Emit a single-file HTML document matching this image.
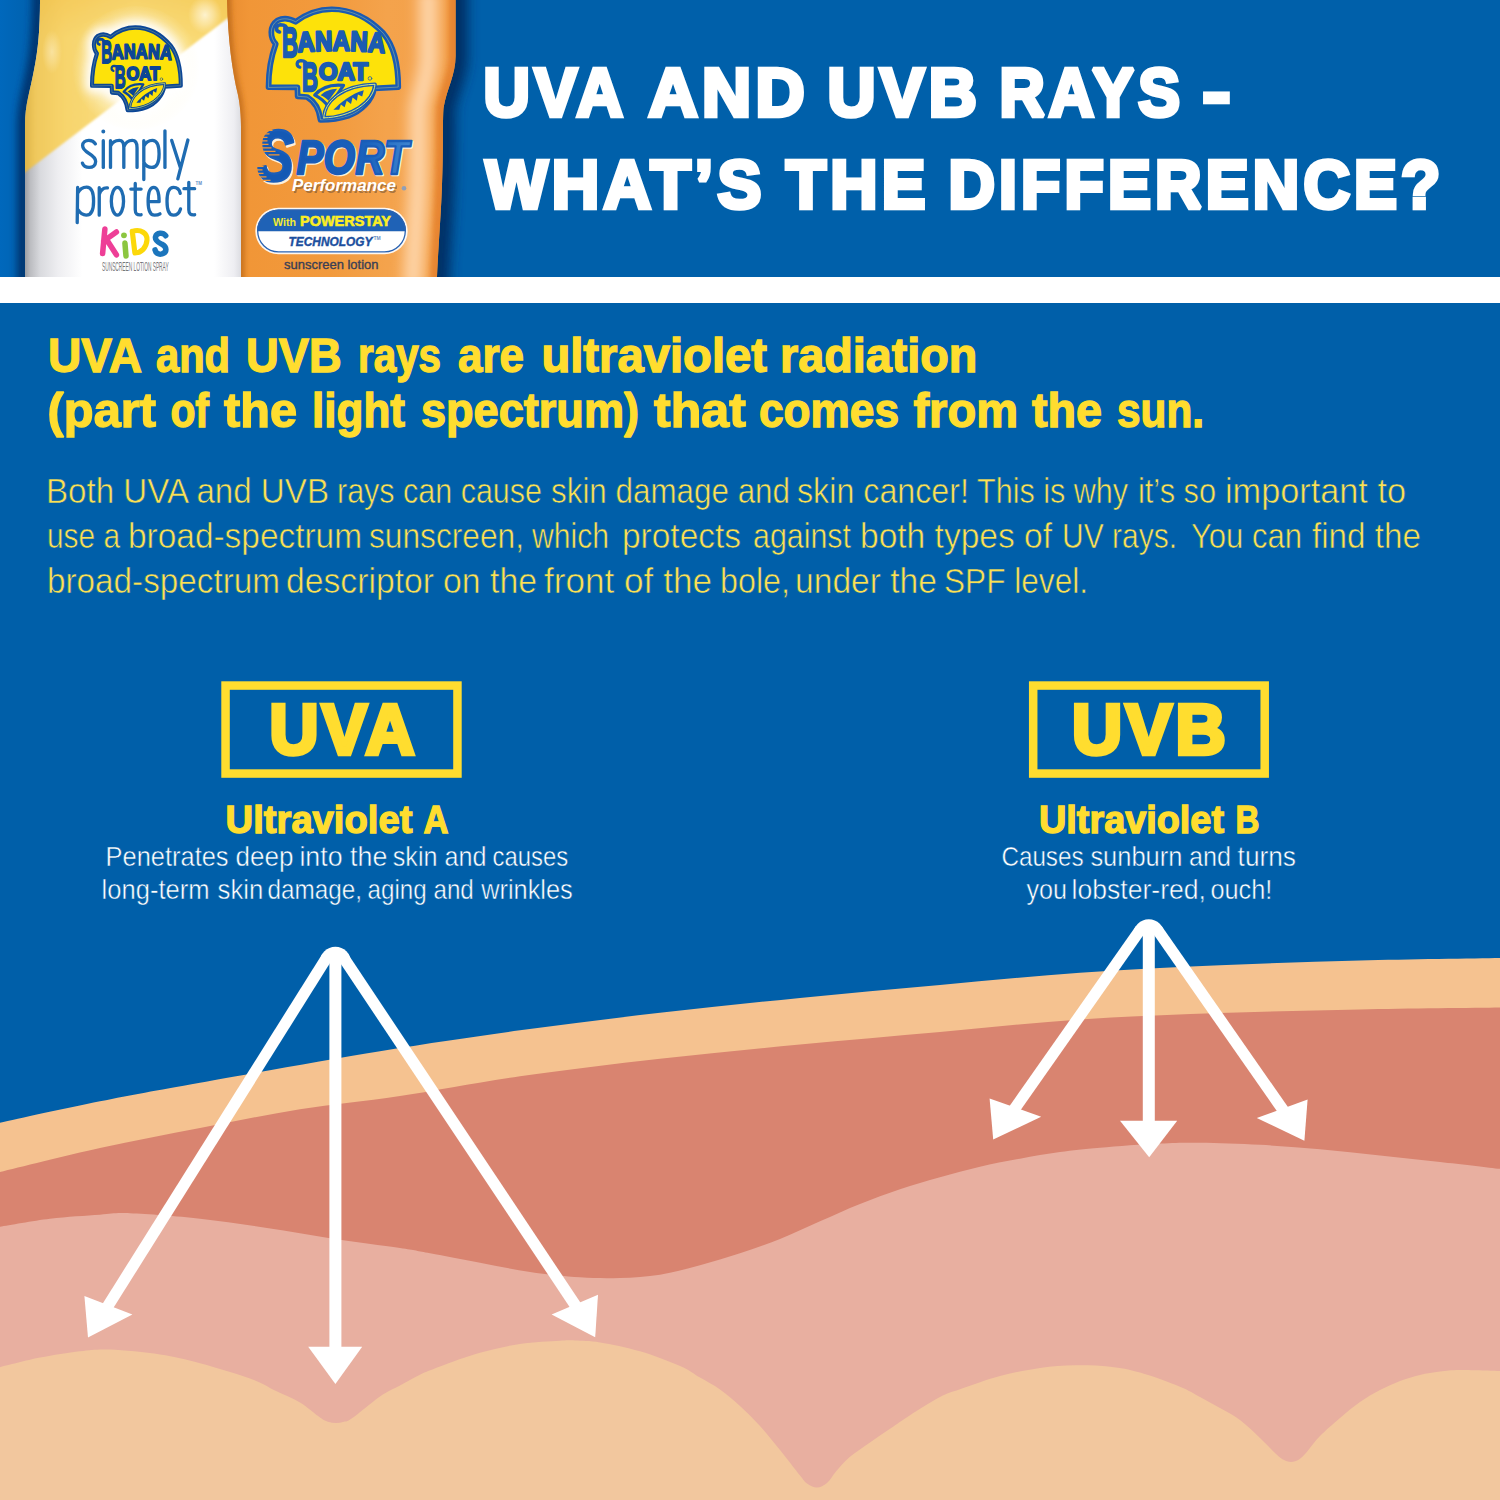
<!DOCTYPE html>
<html lang="en">
<head>
<meta charset="utf-8">
<title>UVA and UVB Rays - What's the Difference?</title>
<style>
  html, body { margin: 0; padding: 0; }
  body { width: 1500px; height: 1500px; overflow: hidden; background: #005fa9; font-family: "Liberation Sans", sans-serif; }
  svg { display: block; position: absolute; left: 0; top: 0; }
  text { font-family: "Liberation Sans", sans-serif; }
  .b { font-weight: bold; }
  .y { fill: #ffdd2f; }
  .w { fill: #ffffff; }
</style>
</head>
<body>
<svg id="page" width="1500" height="1500" viewBox="0 0 1500 1500">
  <defs>
    <linearGradient id="hdrL" x1="0" x2="1" y1="0" y2="0">
      <stop offset="0" stop-color="#0068bc"/>
      <stop offset="0.5" stop-color="#0063b2"/>
      <stop offset="1" stop-color="#005fa9"/>
    </linearGradient>
    <filter id="blurL" filterUnits="userSpaceOnUse" x="-20" y="-30" width="100" height="340"><feGaussianBlur stdDeviation="3.5 2"/></filter>
  </defs>

  <!-- ===== page background ===== -->
  <rect x="0" y="0" width="1500" height="1500" fill="#005fa9"/>

  <!-- ===== HEADER ===== -->
  <g id="header">
    <rect x="0" y="0" width="1500" height="277" fill="#0060aa"/>
    <rect x="0" y="0" width="46" height="277" fill="url(#hdrL)"/>
    <path d="M38.500,-5 C38.500,30 36.500,50 32.500,70 C28.500,92 23.500,104 23.500,125 L23.500,282" fill="none" stroke="#012f66" stroke-width="13" filter="url(#blurL)" opacity="0.85"/>
    <path d="M457,-5 L457,56 C457,75 448.500,88 445,108 C444,120 445,150 443.500,185 C442.500,215 439.500,250 438.500,282" fill="none" stroke="#012e63" stroke-width="22" filter="url(#blurS)" opacity="0.95"/>
    <g id="bottles">
      <defs>
        <linearGradient id="whiteBody" gradientUnits="userSpaceOnUse" x1="25" x2="245" y1="0" y2="0">
          <stop offset="0" stop-color="#9c9ea3"/>
          <stop offset="0.025" stop-color="#bcbdc1"/>
          <stop offset="0.07" stop-color="#d9dade"/>
          <stop offset="0.15" stop-color="#eeeef1"/>
          <stop offset="0.26" stop-color="#ffffff"/>
          <stop offset="0.86" stop-color="#ffffff"/>
          <stop offset="0.95" stop-color="#eeeef2"/>
          <stop offset="1" stop-color="#d2d3d9"/>
        </linearGradient>
        <linearGradient id="yellowBody" gradientUnits="userSpaceOnUse" x1="25" x2="245" y1="0" y2="0">
          <stop offset="0" stop-color="#dfb548"/>
          <stop offset="0.05" stop-color="#f0c95d"/>
          <stop offset="0.18" stop-color="#f7d46c"/>
          <stop offset="0.5" stop-color="#fadf82"/>
          <stop offset="0.8" stop-color="#f9d973"/>
          <stop offset="1" stop-color="#f5ce60"/>
        </linearGradient>
        <linearGradient id="yellowTop" x1="0" x2="0" y1="0" y2="1">
          <stop offset="0" stop-color="#f0b93a" stop-opacity="0.4"/>
          <stop offset="0.25" stop-color="#f0b93a" stop-opacity="0"/>
        </linearGradient>
        <radialGradient id="halo" gradientUnits="userSpaceOnUse" cx="136" cy="68" r="64">
          <stop offset="0" stop-color="#ffffff" stop-opacity="1"/>
          <stop offset="0.6" stop-color="#ffffff" stop-opacity="0.92"/>
          <stop offset="0.78" stop-color="#fffdf0" stop-opacity="0.55"/>
          <stop offset="1" stop-color="#fff8dc" stop-opacity="0"/>
        </radialGradient>
        <radialGradient id="blob">
          <stop offset="0" stop-color="#fff8e0" stop-opacity="0.85"/>
          <stop offset="0.5" stop-color="#fff3cf" stop-opacity="0.5"/>
          <stop offset="1" stop-color="#ffefbf" stop-opacity="0"/>
        </radialGradient>
        <linearGradient id="orangeBody" gradientUnits="userSpaceOnUse" x1="226" x2="456" y1="0" y2="0">
          <stop offset="0" stop-color="#d5802a"/>
          <stop offset="0.035" stop-color="#ec9033"/>
          <stop offset="0.10" stop-color="#f19637"/>
          <stop offset="0.45" stop-color="#f29a3d"/>
          <stop offset="0.70" stop-color="#f4a34c"/>
          <stop offset="1" stop-color="#f3a04a"/>
        </linearGradient>
        <clipPath id="orangeClip"><path d="M227,0 C228,40 232,70 238,95 C240,105 241,115 241,130 L241,277 L437,277 C438,250 441,215 442,185 C443.500,150 442.500,120 443.500,108 C447,88 455.600,75 455.600,56 L455.600,0 Z"/></clipPath>
        <filter id="blur6" filterUnits="userSpaceOnUse" x="340" y="-30" width="150" height="340"><feGaussianBlur stdDeviation="7 3"/></filter>
        <filter id="blurS" filterUnits="userSpaceOnUse" x="390" y="-30" width="140" height="340"><feGaussianBlur stdDeviation="6 2"/></filter>
        <filter id="blurOL" filterUnits="userSpaceOnUse" x="200" y="-30" width="90" height="340"><feGaussianBlur stdDeviation="2.5 1"/></filter>
        <filter id="blur2" filterUnits="userSpaceOnUse" x="400" y="-30" width="90" height="340"><feGaussianBlur stdDeviation="2.5 1"/></filter>
        <linearGradient id="sportFill" x1="0" x2="1" y1="0" y2="0">
          <stop offset="0" stop-color="#1459b4"/>
          <stop offset="0.6" stop-color="#1a62bd"/>
          <stop offset="1" stop-color="#3f85d0"/>
        </linearGradient>
        <clipPath id="leftClip"><path d="M40,0 C40,30 38,50 34,70 C30,92 25,104 25,125 L25,277 L245,277 L245,0 Z"/></clipPath>
        <clipPath id="pillClip"><rect x="257" y="209.500" width="149" height="43" rx="21.500"/></clipPath>
        <filter id="soft" filterUnits="userSpaceOnUse" x="0" y="-20" width="270" height="320"><feGaussianBlur stdDeviation="1.1"/></filter>
        <filter id="glow" x="-40%" y="-40%" width="180%" height="180%"><feGaussianBlur stdDeviation="62"/></filter>
        <filter id="soft2" x="-20%" y="-20%" width="140%" height="140%"><feGaussianBlur stdDeviation="0.6"/></filter>

        <!-- Banana Boat logo drawn in a 1500-wide working space -->
        <g id="bblogo" stroke-linejoin="round" stroke-linecap="round">
          <g transform="translate(735,607) scale(0.965,0.96) translate(-735,-607)">
            <path id="bbOutline" d="M105,825 C105,700 118,560 175,405 C120,345 110,230 190,175 C250,145 320,160 368,188 C470,110 590,65 720,65 C900,65 1080,150 1220,300 C1320,420 1365,600 1365,825 L1130,838 C1110,950 1010,1060 880,1105 C790,1135 690,1145 610,1145 C600,1060 560,970 480,922 L388,915 L385,828 Z" fill="#fde20a" stroke="currentColor" style="stroke-width:var(--ow,48px)"/>
            <path d="M105,825 C105,700 118,560 175,405 C120,345 110,230 190,175 C250,145 320,160 368,188 C470,110 590,65 720,65 C900,65 1080,150 1220,300 C1320,420 1365,600 1365,825 L1130,838 C1110,950 1010,1060 880,1105 C790,1135 690,1145 610,1145 C600,1060 560,970 480,922 L388,915 L385,828 Z" fill="none" stroke="#e6ec86" style="stroke-width:var(--kw,7px)" opacity="0.6"/>
          </g>
          <!-- small leaf -->
          <path d="M560,892 C620,820 720,788 830,800 C790,860 730,950 690,1000 C650,950 610,915 560,892 Z" fill="#fde20a" stroke="currentColor" stroke-width="30"/>
          <path d="M615,893 C660,850 710,835 770,832 L690,945 C665,920 645,905 615,893 Z" fill="currentColor"/>
          <!-- main leaf -->
          <path d="M645,1105 C650,960 800,800 1125,790 C1110,960 900,1100 645,1105 Z" fill="#fde20a" stroke="currentColor" stroke-width="34"/>
          <path d="M645,1105 C650,960 800,800 1125,790 C1110,960 900,1100 645,1105 Z" fill="none" stroke="#d9ee7e" stroke-width="9"/>
          <path d="M735,1030 C800,960 900,880 1020,845 L1005,905 L965,885 L955,945 L915,915 L900,975 L860,945 L840,1005 L805,980 L790,1030 Z" fill="currentColor"/>
          <!-- lettering -->
          <g fill="currentColor" stroke="currentColor" font-weight="bold">
            <path d="M230,300 C190,290 190,235 240,232 C280,232 300,250 300,285" fill="none" stroke-width="34"/>
            <text x="252" y="532" font-size="400" style="stroke-width:var(--lw,16px)" textLength="150" lengthAdjust="spacingAndGlyphs">B</text>
            <text font-size="262" style="stroke-width:var(--lw,16px)"><textPath href="#bbArc" textLength="815" lengthAdjust="spacingAndGlyphs">ANANA</textPath></text>
            <path d="M420,630 C385,620 385,572 430,568 C468,568 485,585 485,615" fill="none" stroke-width="30"/>
            <text x="440" y="852" font-size="385" style="stroke-width:var(--lw,16px)" textLength="150" lengthAdjust="spacingAndGlyphs">B</text>
            <text x="598" y="748" font-size="230" style="stroke-width:var(--lw,16px)" textLength="462" lengthAdjust="spacingAndGlyphs">OAT</text>
            <circle cx="1078" cy="735" r="17" fill="none" stroke-width="7"/>
          </g>
          <path id="bbArc" d="M402,488 Q810,458 1218,496" fill="none" stroke="none"/>
        </g>
      </defs>

      <!-- left bottle : Simply Protect Kids -->
      <g clip-path="url(#leftClip)">
        <rect x="20" y="0" width="230" height="277" fill="url(#whiteBody)"/>
        <g filter="url(#soft)">
          <path d="M10,-10 L255,-10 L255,-2.600 L10,183.900 Z" fill="url(#yellowBody)"/>
          <path d="M10,-10 L255,-10 L255,-2.600 L10,183.900 Z" fill="url(#yellowTop)"/>
        </g>
        <ellipse cx="136" cy="68" rx="64" ry="62" fill="url(#halo)" opacity="0.55"/>
        <ellipse cx="205" cy="15" rx="17" ry="19" fill="url(#blob)"/>
        <ellipse cx="52" cy="52" rx="10" ry="22" fill="url(#blob)" opacity="0.55"/>
      </g>
      <g transform="translate(82.730,20.630) scale(0.07302,0.07963)" filter="url(#glow)" opacity="0.95">
        <path transform="translate(735,607) scale(0.965,0.96) translate(-735,-607)" d="M105,825 C105,700 118,560 175,405 C120,345 110,230 190,175 C250,145 320,160 368,188 C470,110 590,65 720,65 C900,65 1080,150 1220,300 C1320,420 1365,600 1365,825 L1130,838 C1110,950 1010,1060 880,1105 C790,1135 690,1145 610,1145 C600,1060 560,970 480,922 L388,915 L385,828 Z" fill="#ffffff" stroke="#ffffff" stroke-width="190" stroke-linejoin="round"/>
      </g>
      <use href="#bblogo" transform="translate(82.730,20.630) scale(0.07302,0.07963)" style="color:#0b4696;--ow:58px;--kw:6px;--lw:22px"/>
      <g transform="translate(70,122) scale(0.09)" fill="none" stroke="#1f6cb2" stroke-width="37" stroke-linecap="round" stroke-linejoin="round">
        <!-- simply -->
        <path d="M282,242 C265,214 235,204 210,204 C170,204 140,226 140,262 C140,300 172,326 212,350 C255,376 285,400 285,440 C285,480 255,505 212,505 C175,505 150,490 138,457"/>
        <circle cx="370" cy="106" r="9" fill="#1f6cb2" stroke-width="26"/>
        <path d="M370,208 L370,505"/>
        <path d="M450,208 L450,505 M450,268 C470,220 515,204 548,204 C590,204 598,238 598,282 L598,505 M598,276 C618,224 660,204 692,204 C736,204 745,240 745,286 L745,505"/>
        <path d="M820,208 L820,640 M820,268 C845,220 885,204 915,204 C978,204 990,288 990,355 C990,440 970,505 910,505 C870,505 840,482 820,448"/>
        <path d="M1055,98 L1055,505"/>
        <path d="M1130,205 L1228,512 M1310,200 L1198,632"/>
        <!-- protect -->
        <path d="M85,728 L80,1118 M85,792 C110,742 150,724 185,724 C250,724 262,800 262,880 C262,960 240,1035 180,1035 C140,1035 110,1010 86,972"/>
        <path d="M325,730 L325,1035 M325,806 C340,756 375,728 416,732"/>
        <ellipse cx="527" cy="880" rx="68" ry="154"/>
        <path d="M725,682 L725,972 C725,1022 745,1036 790,1031 M676,745 L790,745"/>
        <path d="M884,885 L990,885 C990,792 975,726 930,726 C880,726 868,800 868,880 C868,960 880,1035 940,1035 C965,1035 985,1030 1000,1020"/>
        <path d="M1225,792 C1215,746 1185,726 1150,726 C1090,726 1078,800 1078,880 C1078,960 1090,1035 1150,1035 C1190,1035 1215,1010 1228,966"/>
        <path d="M1320,672 L1320,976 C1320,1022 1340,1036 1385,1031 M1266,741 L1385,741"/>
      </g>
      <text x="195.500" y="184.500" font-size="4.500" font-weight="bold" fill="#5f8fc8">TM</text>
      <g transform="translate(90,220) scale(0.06)" fill="none" stroke-width="92" stroke-linecap="round" stroke-linejoin="round">
        <path d="M248,150 L210,560 M228,352 L440,200 M290,345 L440,580" stroke="#ee3f97"/>
        <path d="M582,385 L600,600" stroke="#8cc63f"/>
        <circle cx="566" cy="256" r="48" fill="#8cc63f" stroke="none"/>
        <path d="M705,190 L748,550 M705,190 C850,140 960,230 950,335 C940,465 855,545 748,550" stroke="#fcd80a" stroke-width="86"/>
        <path d="M1262,262 C1215,205 1110,208 1092,282 C1078,348 1150,378 1200,405 C1282,450 1290,535 1200,565 C1140,580 1095,550 1084,498" stroke="#1b75bc"/>
      </g>
      <text x="102" y="271.300" font-size="12" fill="#77787b" textLength="66.600" lengthAdjust="spacingAndGlyphs">SUNSCREEN LOTION SPRAY</text>

      <!-- right bottle : Sport Performance -->
      <g clip-path="url(#orangeClip)">
        <rect x="220" y="0" width="240" height="277" fill="url(#orangeBody)"/>
        <path d="M428.500,-5 L428.500,56 C428.500,75 421.500,88 419,108 C418,120 419,150 418,185 C417,215 414,250 413,282" fill="none" stroke="#fed6aa" stroke-width="19" filter="url(#blur6)" opacity="1"/>
        <path d="M226,-5 C227,40 231,70 237,95 C239,105 240,115 240,130 L240,282" fill="none" stroke="#c46f1c" stroke-width="9" filter="url(#blurOL)" opacity="0.9"/>
        <path d="M455.600,-5 L455.600,56 C455.600,75 447,88 443.500,108 C442.500,120 443.500,150 442,185 C441,215 438,250 437,282" fill="none" stroke="#e5822f" stroke-width="14" filter="url(#blur2)" opacity="0.9"/>
      </g>
      <use href="#bblogo" transform="translate(255,0) scale(0.106667)" style="color:#1b5bb2;--ow:56px;--kw:6px;--lw:22px"/>

      <!-- SPORT -->
      <g font-weight="bold" font-style="italic">
        <g stroke="#fdf0dc" stroke-width="2.600" stroke-linejoin="round" fill="#fdf0dc" transform="translate(1.300,1.300)">
          <text x="257.500" y="181.300" font-size="73" textLength="36.500" lengthAdjust="spacingAndGlyphs">S</text>
          <text x="296.500" y="173.500" font-size="48.500" textLength="112" lengthAdjust="spacingAndGlyphs">PORT</text>
        </g>
        <g fill="url(#sportFill)" stroke="#1a5db8" stroke-width="2.400" stroke-linejoin="round">
          <text x="257.500" y="181.300" font-size="73" textLength="36.500" lengthAdjust="spacingAndGlyphs" fill="#1459b4">S</text>
          <text x="296.500" y="173.500" font-size="48.500" textLength="112" lengthAdjust="spacingAndGlyphs">PORT</text>
        </g>
        <path d="M260.5,130.3 L272.5,130.3 M258.5,133.8 L269.5,133.8 M257.5,137.3 L267.5,137.3 M257.5,140.8 L267.5,140.8 M258.5,144.3 L268.5,144.3 M260.5,147.8 L271.5,147.8 M263.5,151.3 L275.5,151.3 M268.5,154.8 L279.5,154.8 M253.5,166.3 L263.5,166.3 M253.5,169.8 L262.5,169.8 M253.5,173.3 L263.5,173.3 M255.5,176.8 L266.5,176.8 M259.5,180.3 L270.5,180.3" stroke="#f19637" stroke-width="1.300" fill="none"/>
        <text x="293.500" y="192.600" font-size="16.500" fill="#6b5138" opacity="0.55" textLength="104" lengthAdjust="spacingAndGlyphs">Performance</text>
        <text x="292" y="191.300" font-size="16.500" fill="#ffffff" textLength="104" lengthAdjust="spacingAndGlyphs">Performance</text>
      </g>
      <circle cx="404" cy="188.300" r="2.300" fill="#8f9fb8"/>

      <!-- POWERSTAY pill -->
      <rect x="255.300" y="207.800" width="152.400" height="46.400" rx="23.200" fill="#ffffff" opacity="0.92"/>
      <g clip-path="url(#pillClip)">
        <rect x="255" y="208" width="154" height="23.500" fill="#1f62b6"/>
        <rect x="255" y="231.500" width="154" height="23" fill="#ffffff"/>
      </g>
      <rect x="257.700" y="210.200" width="147.600" height="41.600" rx="20.800" fill="none" stroke="#2a63b2" stroke-width="1.300"/>
      <g font-weight="bold">
        <text x="273" y="226" font-size="10.500" fill="#f3ec32" textLength="23" lengthAdjust="spacingAndGlyphs">With</text>
        <text x="300" y="226" font-size="14.800" fill="#fbee23" stroke="#fbee23" stroke-width="0.600" textLength="91" lengthAdjust="spacingAndGlyphs">POWERSTAY</text>
        <text x="288.500" y="245.800" font-size="12.500" font-style="italic" fill="#1c4f9e" stroke="#1c4f9e" stroke-width="0.400" textLength="84" lengthAdjust="spacingAndGlyphs">TECHNOLOGY</text>
        <text x="373.500" y="240" font-size="5" fill="#6f8fc4">TM</text>
      </g>
      <text x="284" y="269.400" font-size="12.800" fill="#3a3f55" stroke="#3a3f55" stroke-width="0.350" textLength="94.500" lengthAdjust="spacingAndGlyphs">sunscreen lotion</text>
    </g>
    <!-- title -->
    <g class="w b" font-size="69" stroke="#fff" stroke-width="4.5" stroke-linejoin="miter" stroke-miterlimit="2" letter-spacing="4.5">
      <text x="483.60" y="116.45" textLength="143.40" lengthAdjust="spacingAndGlyphs">UVA</text>
      <text x="648.40" y="116.45" textLength="160.60" lengthAdjust="spacingAndGlyphs">AND</text>
      <text x="827.60" y="116.45" textLength="153.40" lengthAdjust="spacingAndGlyphs">UVB</text>
      <text x="999.60" y="116.45" textLength="184.40" lengthAdjust="spacingAndGlyphs">RAYS</text>
      <text x="1202.60" y="116.45" textLength="33.40" lengthAdjust="spacingAndGlyphs">-</text>
      <text x="485.40" y="208.45" textLength="280.20" lengthAdjust="spacingAndGlyphs">WHAT’S</text>
      <text x="786.00" y="208.45" textLength="143.60" lengthAdjust="spacingAndGlyphs">THE</text>
      <text x="948.40" y="208.45" textLength="496.20" lengthAdjust="spacingAndGlyphs">DIFFERENCE?</text>
    </g>
  </g>

  <!-- white band -->
  <rect x="0" y="277" width="1500" height="26" fill="#ffffff"/>

  <!-- ===== INTRO TEXT ===== -->
  <g id="intro">
    <g class="y b" font-size="48.1" stroke="#ffdd2f" stroke-width="1.4" stroke-linejoin="miter" stroke-miterlimit="2">
      <text x="48.00" y="371.80" textLength="94.00" lengthAdjust="spacingAndGlyphs">UVA</text>
      <text x="156.00" y="371.80" textLength="74.00" lengthAdjust="spacingAndGlyphs">and</text>
      <text x="246.00" y="371.80" textLength="95.60" lengthAdjust="spacingAndGlyphs">UVB</text>
      <text x="358.00" y="371.80" textLength="83.00" lengthAdjust="spacingAndGlyphs">rays</text>
      <text x="458.00" y="371.80" textLength="66.00" lengthAdjust="spacingAndGlyphs">are</text>
      <text x="541.40" y="371.80" textLength="225.60" lengthAdjust="spacingAndGlyphs">ultraviolet</text>
      <text x="780.00" y="371.80" textLength="197.40" lengthAdjust="spacingAndGlyphs">radiation</text>
      <text x="47.60" y="426.50" textLength="108.40" lengthAdjust="spacingAndGlyphs">(part</text>
      <text x="170.40" y="426.50" textLength="38.60" lengthAdjust="spacingAndGlyphs">of</text>
      <text x="224.00" y="426.50" textLength="73.00" lengthAdjust="spacingAndGlyphs">the</text>
      <text x="312.00" y="426.50" textLength="93.00" lengthAdjust="spacingAndGlyphs">light</text>
      <text x="421.00" y="426.50" textLength="218.00" lengthAdjust="spacingAndGlyphs">spectrum)</text>
      <text x="654.00" y="426.50" textLength="92.00" lengthAdjust="spacingAndGlyphs">that</text>
      <text x="759.00" y="426.50" textLength="140.00" lengthAdjust="spacingAndGlyphs">comes</text>
      <text x="913.40" y="426.50" textLength="104.60" lengthAdjust="spacingAndGlyphs">from</text>
      <text x="1032.00" y="426.50" textLength="70.00" lengthAdjust="spacingAndGlyphs">the</text>
      <text x="1117.00" y="426.50" textLength="87.00" lengthAdjust="spacingAndGlyphs">sun.</text>
    </g>
    <g class="y" font-size="35" stroke="#005fa9" stroke-width="0.6" stroke-linejoin="miter" stroke-miterlimit="2" style="fill:#fbe153">
      <text x="46.00" y="503.00" textLength="283.00" lengthAdjust="spacingAndGlyphs">Both UVA and UVB</text>
      <text x="337.00" y="503.00" textLength="205.00" lengthAdjust="spacingAndGlyphs">rays can cause</text>
      <text x="551.00" y="503.00" textLength="239.00" lengthAdjust="spacingAndGlyphs">skin damage and</text>
      <text x="797.00" y="503.00" textLength="172.00" lengthAdjust="spacingAndGlyphs">skin cancer!</text>
      <text x="977.00" y="503.00" textLength="151.00" lengthAdjust="spacingAndGlyphs">This is why</text>
      <text x="1138.00" y="503.00" textLength="78.00" lengthAdjust="spacingAndGlyphs">it’s so</text>
      <text x="1225.00" y="503.00" textLength="181.00" lengthAdjust="spacingAndGlyphs">important to</text>
      <text x="47.00" y="547.90" textLength="73.00" lengthAdjust="spacingAndGlyphs">use a</text>
      <text x="128.00" y="547.90" textLength="234.00" lengthAdjust="spacingAndGlyphs">broad-spectrum</text>
      <text x="369.00" y="547.90" textLength="155.00" lengthAdjust="spacingAndGlyphs">sunscreen,</text>
      <text x="532.00" y="547.90" textLength="77.00" lengthAdjust="spacingAndGlyphs">which</text>
      <text x="622.00" y="547.90" textLength="119.00" lengthAdjust="spacingAndGlyphs">protects</text>
      <text x="753.00" y="547.90" textLength="98.00" lengthAdjust="spacingAndGlyphs">against</text>
      <text x="860.00" y="547.90" textLength="192.00" lengthAdjust="spacingAndGlyphs">both types of</text>
      <text x="1062.00" y="547.90" textLength="115.00" lengthAdjust="spacingAndGlyphs">UV rays.</text>
      <text x="1191.00" y="547.90" textLength="111.00" lengthAdjust="spacingAndGlyphs">You can</text>
      <text x="1312.00" y="547.90" textLength="109.00" lengthAdjust="spacingAndGlyphs">find the</text>
      <text x="47.00" y="592.80" textLength="233.00" lengthAdjust="spacingAndGlyphs">broad-spectrum</text>
      <text x="286.00" y="592.80" textLength="148.00" lengthAdjust="spacingAndGlyphs">descriptor</text>
      <text x="443.00" y="592.80" textLength="94.00" lengthAdjust="spacingAndGlyphs">on the</text>
      <text x="544.00" y="592.80" textLength="168.00" lengthAdjust="spacingAndGlyphs">front of the</text>
      <text x="720.00" y="592.80" textLength="70.00" lengthAdjust="spacingAndGlyphs">bole,</text>
      <text x="795.00" y="592.80" textLength="142.00" lengthAdjust="spacingAndGlyphs">under the</text>
      <text x="944.00" y="592.80" textLength="144.00" lengthAdjust="spacingAndGlyphs">SPF level.</text>
    </g>
  </g>

  <!-- ===== SKIN LAYERS ===== -->
  <g id="skin">
    <path fill="#f5c290" d="M0.0,1122.7 C16.7,1119.1 66.7,1108.0 100.0,1101.3 C133.3,1094.6 153.3,1091.0 200.0,1082.7 C246.7,1074.4 326.7,1059.9 380.0,1051.2 C433.3,1042.5 473.3,1036.7 520.0,1030.3 C566.7,1023.9 613.3,1018.2 660.0,1012.8 C706.7,1007.4 753.3,1002.5 800.0,997.9 C846.7,993.3 893.3,989.2 940.0,985.0 C986.7,980.8 1033.3,976.1 1080.0,972.8 C1126.7,969.5 1173.3,967.3 1220.0,965.3 C1266.7,963.2 1313.3,961.7 1360.0,960.5 C1406.7,959.3 1476.7,958.4 1500.0,958.0 L1500,1500 L0,1500 Z"/>
    <path fill="#d98470" d="M0.0,1172.0 C16.7,1168.0 66.7,1155.3 100.0,1148.0 C133.3,1140.7 166.7,1134.5 200.0,1128.0 C233.3,1121.5 266.7,1114.6 300.0,1109.3 C333.3,1104.0 363.3,1101.5 400.0,1096.0 C436.7,1090.5 476.7,1082.4 520.0,1076.2 C563.3,1070.0 613.3,1064.0 660.0,1058.7 C706.7,1053.4 753.3,1049.0 800.0,1044.5 C846.7,1040.0 893.3,1036.2 940.0,1032.0 C986.7,1027.8 1033.3,1022.5 1080.0,1019.4 C1126.7,1016.2 1173.3,1014.8 1220.0,1013.1 C1266.7,1011.4 1313.3,1010.3 1360.0,1009.4 C1406.7,1008.5 1476.7,1007.8 1500.0,1007.5 L1500,1500 L0,1500 Z"/>
    <path fill="#e8afa0" d="M0.0,1226.7 C8.3,1225.4 33.3,1220.7 50.0,1218.7 C66.7,1216.7 86.7,1215.6 100.0,1214.7 C113.3,1213.8 113.3,1212.6 130.0,1213.3 C146.7,1214.0 177.2,1216.2 200.0,1218.7 C222.8,1221.2 244.8,1224.7 267.0,1228.0 C289.2,1231.3 310.8,1235.4 333.0,1238.7 C355.2,1242.0 383.8,1245.6 400.0,1248.0 C416.2,1250.4 416.7,1250.8 430.0,1253.3 C443.3,1255.8 463.3,1259.6 480.0,1262.7 C496.7,1265.8 513.3,1269.6 530.0,1272.0 C546.7,1274.4 565.0,1276.3 580.0,1277.3 C595.0,1278.3 606.7,1278.4 620.0,1278.0 C633.3,1277.6 646.7,1276.8 660.0,1274.7 C673.3,1272.6 686.7,1268.9 700.0,1265.3 C713.3,1261.7 726.7,1257.7 740.0,1253.3 C753.3,1248.9 766.7,1244.3 780.0,1239.0 C793.3,1233.7 806.7,1227.1 820.0,1221.3 C833.3,1215.5 846.7,1209.3 860.0,1204.0 C873.3,1198.7 886.7,1193.8 900.0,1189.3 C913.3,1184.8 926.7,1181.1 940.0,1177.3 C953.3,1173.5 966.7,1169.8 980.0,1166.7 C993.3,1163.6 1006.7,1161.2 1020.0,1158.7 C1033.3,1156.2 1046.7,1153.8 1060.0,1152.0 C1073.3,1150.2 1083.3,1149.1 1100.0,1147.7 C1116.7,1146.3 1143.3,1144.3 1160.0,1143.5 C1176.7,1142.7 1183.3,1142.5 1200.0,1142.7 C1216.7,1142.9 1240.0,1143.7 1260.0,1144.8 C1280.0,1145.9 1300.0,1147.5 1320.0,1149.3 C1340.0,1151.1 1360.0,1153.4 1380.0,1155.5 C1400.0,1157.6 1420.0,1159.7 1440.0,1161.9 C1460.0,1164.1 1490.0,1167.7 1500.0,1168.8 L1500,1500 L0,1500 Z"/>
    <path fill="#f2c79e" d="M0.0,1367.2 C6.7,1365.6 26.7,1360.3 40.0,1357.6 C53.3,1354.9 68.3,1352.5 80.0,1351.2 C91.7,1349.9 96.7,1349.1 110.0,1349.6 C123.3,1350.1 145.0,1352.1 160.0,1354.4 C175.0,1356.7 185.0,1359.2 200.0,1363.2 C215.0,1367.2 237.5,1374.0 250.0,1378.5 C262.5,1383.0 266.7,1386.5 275.0,1390.5 C283.3,1394.5 292.5,1398.0 300.0,1402.5 C307.5,1407.0 315.3,1414.3 320.0,1417.5 C324.7,1420.7 325.3,1420.8 328.0,1421.7 C330.7,1422.6 333.3,1423.1 336.0,1423.1 C338.7,1423.1 341.3,1422.6 344.0,1421.8 C346.7,1421.0 346.0,1422.5 352.0,1418.3 C358.0,1414.1 372.0,1402.0 380.0,1396.5 C388.0,1391.0 393.3,1389.1 400.0,1385.5 C406.7,1381.9 413.3,1377.9 420.0,1374.7 C426.7,1371.5 430.0,1370.2 440.0,1366.5 C450.0,1362.8 466.7,1356.5 480.0,1352.8 C493.3,1349.0 506.7,1346.0 520.0,1344.0 C533.3,1342.0 550.8,1341.4 560.0,1340.8 C569.2,1340.2 568.3,1340.2 575.0,1340.5 C581.7,1340.8 589.2,1340.6 600.0,1342.4 C610.8,1344.2 626.7,1347.3 640.0,1351.2 C653.3,1355.1 670.0,1361.6 680.0,1366.0 C690.0,1370.4 693.3,1373.7 700.0,1377.6 C706.7,1381.5 713.3,1384.8 720.0,1389.5 C726.7,1394.2 733.3,1399.9 740.0,1406.0 C746.7,1412.1 753.3,1418.7 760.0,1426.0 C766.7,1433.3 773.3,1441.8 780.0,1450.0 C786.7,1458.2 795.5,1469.9 800.0,1475.5 C804.5,1481.1 804.2,1481.5 807.0,1483.5 C809.8,1485.5 813.7,1487.6 817.0,1487.5 C820.3,1487.4 823.8,1485.7 827.0,1483.0 C830.2,1480.3 832.2,1475.9 836.0,1471.5 C839.8,1467.1 844.3,1461.6 850.0,1456.8 C855.7,1452.0 863.3,1447.1 870.0,1442.4 C876.7,1437.7 883.3,1433.3 890.0,1428.8 C896.7,1424.3 901.7,1420.5 910.0,1415.2 C918.3,1409.9 931.7,1401.3 940.0,1397.0 C948.3,1392.7 950.0,1392.8 960.0,1389.3 C970.0,1385.8 986.7,1379.5 1000.0,1376.0 C1013.3,1372.5 1027.5,1369.8 1040.0,1368.0 C1052.5,1366.2 1063.3,1365.5 1075.0,1365.3 C1086.7,1365.1 1099.2,1365.5 1110.0,1366.7 C1120.8,1367.9 1128.3,1369.2 1140.0,1372.5 C1151.7,1375.8 1170.0,1382.6 1180.0,1386.7 C1190.0,1390.8 1193.3,1393.5 1200.0,1397.0 C1206.7,1400.5 1213.3,1404.2 1220.0,1408.0 C1226.7,1411.8 1233.3,1415.0 1240.0,1420.0 C1246.7,1425.0 1254.2,1432.5 1260.0,1438.0 C1265.8,1443.5 1271.2,1449.4 1275.0,1453.0 C1278.8,1456.6 1280.3,1458.0 1283.0,1459.5 C1285.7,1461.0 1288.3,1462.0 1291.0,1462.0 C1293.7,1462.0 1296.7,1460.8 1299.0,1459.5 C1301.3,1458.2 1303.2,1455.9 1305.0,1454.0 C1306.8,1452.1 1307.5,1451.0 1310.0,1448.0 C1312.5,1445.0 1315.0,1441.0 1320.0,1436.0 C1325.0,1431.0 1333.3,1423.7 1340.0,1418.0 C1346.7,1412.3 1353.3,1406.7 1360.0,1402.0 C1366.7,1397.3 1373.3,1393.5 1380.0,1390.0 C1386.7,1386.5 1393.3,1383.5 1400.0,1381.0 C1406.7,1378.5 1413.3,1376.6 1420.0,1375.0 C1426.7,1373.4 1433.3,1372.4 1440.0,1371.6 C1446.7,1370.8 1450.0,1370.1 1460.0,1370.0 C1470.0,1369.9 1493.3,1370.8 1500.0,1371.0 L1500,1500 L0,1500 Z"/>
  </g>

  <!-- ===== UVA ===== -->
  <g id="uva">
    <rect x="225.550" y="685.550" width="231.900" height="88" fill="none" stroke="#ffdd2f" stroke-width="8.500"/>
    <g class="y b" font-size="70.5" stroke="#ffdd2f" stroke-width="4.5" stroke-linejoin="miter" stroke-miterlimit="2" letter-spacing="3.5">
      <text x="269.40" y="753.55" textLength="148.40" lengthAdjust="spacingAndGlyphs">UVA</text>
    </g>
    <g class="y b" font-size="39.6" stroke="#ffdd2f" stroke-width="1.4" stroke-linejoin="miter" stroke-miterlimit="2">
      <text x="225.60" y="832.60" textLength="186.80" lengthAdjust="spacingAndGlyphs">Ultraviolet</text>
      <text x="423.60" y="832.60" textLength="25.00" lengthAdjust="spacingAndGlyphs">A</text>
    </g>
    <g class="w" font-size="27.2" stroke="#005fa9" stroke-width="0.5" stroke-linejoin="miter" stroke-miterlimit="2">
      <text x="105.60" y="865.55" textLength="123.00" lengthAdjust="spacingAndGlyphs">Penetrates</text>
      <text x="235.40" y="865.55" textLength="58.00" lengthAdjust="spacingAndGlyphs">deep</text>
      <text x="299.40" y="865.55" textLength="88.00" lengthAdjust="spacingAndGlyphs">into the</text>
      <text x="392.80" y="865.55" textLength="93.60" lengthAdjust="spacingAndGlyphs">skin and</text>
      <text x="492.60" y="865.55" textLength="75.60" lengthAdjust="spacingAndGlyphs">causes</text>
      <text x="101.60" y="898.55" textLength="108.00" lengthAdjust="spacingAndGlyphs">long-term</text>
      <text x="217.60" y="898.55" textLength="45.80" lengthAdjust="spacingAndGlyphs">skin</text>
      <text x="267.60" y="898.55" textLength="94.40" lengthAdjust="spacingAndGlyphs">damage,</text>
      <text x="367.60" y="898.55" textLength="106.20" lengthAdjust="spacingAndGlyphs">aging and</text>
      <text x="481.20" y="898.55" textLength="91.60" lengthAdjust="spacingAndGlyphs">wrinkles</text>
    </g>
    <g stroke="#fff" stroke-width="12" fill="none">
      <path d="M327.100,957 L106,1309" stroke-width="11.400"/>
      <path d="M343.100,957 L577.500,1308.500" stroke-width="11.400"/>
      <path d="M335.400,955 L335.400,1350"/>
    </g>
    <path fill="#fff" d="M319.900,962.300 A15.500,15.500 0 0 1 350.900,962.300 Z"/>
    <g fill="#fff">
      <path d="M308.200,1346.800 L362.200,1346.800 L335.400,1384 Z"/>
      <path d="M84.400,1296 L132.400,1314.400 L88,1337.600 Z"/>
      <path d="M598,1294.800 L551.600,1314.400 L595.200,1337.200 Z"/>
    </g>
  </g>

  <!-- ===== UVB ===== -->
  <g id="uvb">
    <rect x="1033.200" y="685.550" width="231.500" height="88" fill="none" stroke="#ffdd2f" stroke-width="8.500"/>
    <g class="y b" font-size="70.5" stroke="#ffdd2f" stroke-width="4.5" stroke-linejoin="miter" stroke-miterlimit="2" letter-spacing="3.5">
      <text x="1072.00" y="753.55" textLength="157.00" lengthAdjust="spacingAndGlyphs">UVB</text>
    </g>
    <g class="y b" font-size="39.6" stroke="#ffdd2f" stroke-width="1.4" stroke-linejoin="miter" stroke-miterlimit="2">
      <text x="1039.00" y="832.60" textLength="185.00" lengthAdjust="spacingAndGlyphs">Ultraviolet</text>
      <text x="1235.60" y="832.60" textLength="24.00" lengthAdjust="spacingAndGlyphs">B</text>
    </g>
    <g class="w" font-size="27.2" stroke="#005fa9" stroke-width="0.5" stroke-linejoin="miter" stroke-miterlimit="2">
      <text x="1001.40" y="865.55" textLength="82.20" lengthAdjust="spacingAndGlyphs">Causes</text>
      <text x="1090.40" y="865.55" textLength="92.00" lengthAdjust="spacingAndGlyphs">sunburn</text>
      <text x="1189.00" y="865.55" textLength="42.00" lengthAdjust="spacingAndGlyphs">and</text>
      <text x="1237.60" y="865.55" textLength="58.40" lengthAdjust="spacingAndGlyphs">turns</text>
      <text x="1026.40" y="898.55" textLength="40.60" lengthAdjust="spacingAndGlyphs">you</text>
      <text x="1071.60" y="898.55" textLength="134.40" lengthAdjust="spacingAndGlyphs">lobster-red,</text>
      <text x="1210.40" y="898.55" textLength="62.00" lengthAdjust="spacingAndGlyphs">ouch!</text>
    </g>
    <g stroke="#fff" stroke-width="12" fill="none">
      <path d="M1140.600,929.300 L1013,1111" stroke-width="11.400"/>
      <path d="M1157,929.300 L1284.500,1112" stroke-width="11.400"/>
      <path d="M1148.800,927.500 L1148.800,1124"/>
    </g>
    <path fill="#fff" d="M1133.300,934.700 A15.500,15.500 0 0 1 1164.300,934.700 Z"/>
    <g fill="#fff">
      <path d="M1120,1120.800 L1177.200,1120.800 L1149.200,1157.200 Z"/>
      <path d="M989.600,1098.400 L1041.200,1116.800 L993.200,1139.600 Z"/>
      <path d="M1307.600,1099.600 L1256.800,1118 L1304.400,1140.800 Z"/>
    </g>
  </g>
</svg>
</body>
</html>
